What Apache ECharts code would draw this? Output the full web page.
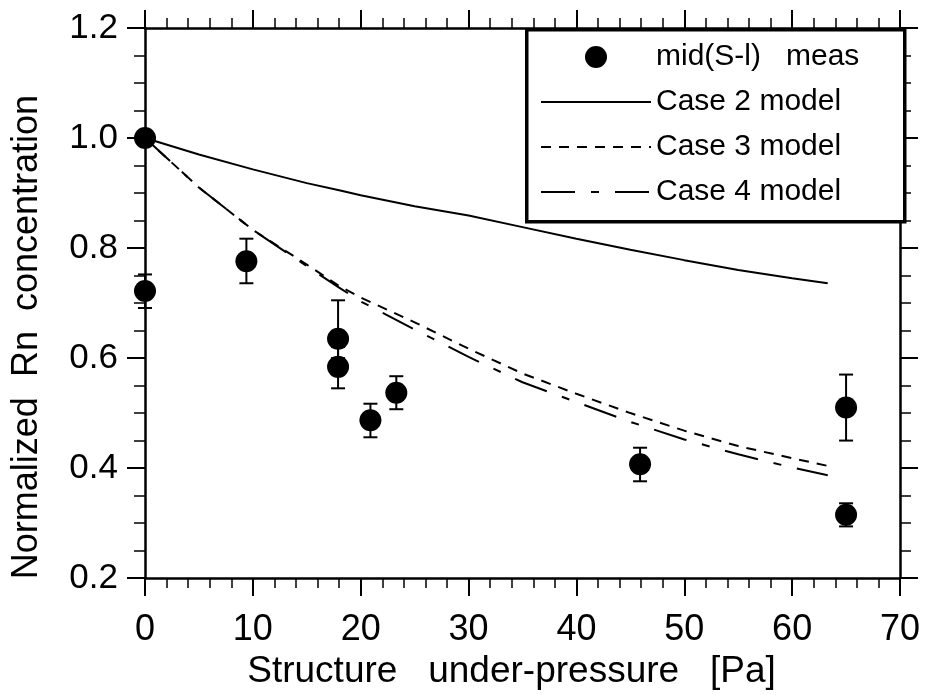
<!DOCTYPE html>
<html>
<head>
<meta charset="utf-8">
<script src="https://cdn.jsdelivr.net/npm/echarts@6/dist/echarts.min.js"></script>
<style>
html,body{margin:0;padding:0;background:#fff;}
#chart{width:927px;height:695px;}
</style>
</head>
<body>
<div id="chart"></div>
<script>
// Measured data: mid(S-l) meas
var measX    = [0, 0, 9.4, 17.9, 17.9, 20.9, 23.3, 45.9, 65.0, 65.0];
var measY    = [1.0, 0.722, 0.776, 0.635, 0.584, 0.487, 0.537, 0.407, 0.510, 0.315];
var measLow  = [1.0, 0.691, 0.736, 0.600, 0.545, 0.456, 0.507, 0.376, 0.450, 0.294];
var measHigh = [1.0, 0.752, 0.817, 0.705, 0.620, 0.517, 0.567, 0.437, 0.570, 0.336];

// Model curves
var modelX  = [0, 5, 10, 15, 18, 20, 25, 30, 35, 40, 45, 50, 55, 60, 63.3];
var case2Y  = [1.0, 0.970, 0.943, 0.918, 0.905, 0.896, 0.876, 0.859, 0.838, 0.817, 0.797, 0.778, 0.760, 0.745, 0.736];
var case3Y  = [1.0, 0.910, 0.833, 0.770, 0.731, 0.710, 0.665, 0.617, 0.572, 0.535, 0.500, 0.468, 0.440, 0.418, 0.404];
var case4Y  = [1.0, 0.910, 0.833, 0.767, 0.728, 0.703, 0.652, 0.602, 0.556, 0.520, 0.484, 0.452, 0.425, 0.401, 0.387];

var xTicks = [0, 10, 20, 30, 40, 50, 60, 70];
var yTicks = ['0.2', '0.4', '0.6', '0.8', '1.0', '1.2'];

var names = ['mid(S-l)   meas', 'Case 2 model', 'Case 3 model', 'Case 4 model'];

function pairs(xs, ys) { return xs.map(function (x, i) { return [x, ys[i]]; }); }

var FONT = '"Liberation Sans", Arial, Helvetica, sans-serif';
var chart = echarts.init(document.getElementById('chart'), null, {renderer: 'canvas'});

function xAxisDef(pos, showLabel) {
  return {
    type: 'value', position: pos, min: xTicks[0], max: xTicks[xTicks.length - 1], interval: 10,
    axisLine: {show: true, onZero: false, lineStyle: {color: '#000', width: 2.5}},
    axisTick: {show: true, length: 18, lineStyle: {color: '#000', width: 2}},
    minorTick: {show: true, splitNumber: 5, length: 10, lineStyle: {color: '#000', width: 1.5}},
    splitLine: {show: false},
    axisLabel: {show: showLabel, fontSize: 36, color: '#000', fontFamily: FONT, margin: 34},
    name: showLabel ? 'Structure   under-pressure   [Pa]' : '',
    nameLocation: 'middle', nameGap: 71,
    nameTextStyle: {fontSize: 37, color: '#000', fontFamily: FONT, padding: [0, 22, 0, 0]}
  };
}
function yAxisDef(pos, showLabel) {
  return {
    type: 'value', position: pos, min: 0.2, max: 1.2, interval: 0.2,
    axisLine: {show: true, onZero: false, lineStyle: {color: '#000', width: 2.5}},
    axisTick: {show: true, length: 18, lineStyle: {color: '#000', width: 2}},
    minorTick: {show: true, splitNumber: 4, length: 11, lineStyle: {color: '#000', width: 1.5}},
    splitLine: {show: false},
    axisLabel: {show: showLabel, fontSize: 35, color: '#000', fontFamily: FONT, margin: 27,
      formatter: function (v) { var s = v.toFixed(1); return yTicks.indexOf(s) >= 0 ? s : ''; }},
    name: showLabel ? 'Normalized  Rn  concentration' : '',
    nameLocation: 'middle', nameGap: 100, nameRotate: 90,
    nameTextStyle: {fontSize: 36, color: '#000', fontFamily: FONT, padding: [0, 68, 0, 0]}
  };
}

var errData = measX.map(function (x, i) { return [x, measLow[i], measHigh[i]]; });
var hidden = {color: 'rgba(0,0,0,0)', borderWidth: 0, opacity: 0};

var option = {
  animation: false,
  backgroundColor: '#fff',
  grid: {left: 145, right: 27, top: 28, bottom: 112, containLabel: false},
  xAxis: [xAxisDef('bottom', true), xAxisDef('top', false)],
  yAxis: [yAxisDef('left', true), yAxisDef('right', false)],
  legend: {
    orient: 'vertical', left: 540, top: 42, padding: 0, itemGap: 15,
    itemWidth: 110, itemHeight: 22,
    textStyle: {fontSize: 30, color: '#000', fontFamily: FONT},
    data: [
      {name: names[0], icon: 'circle', itemStyle: {color: '#000', opacity: 1}},
      {name: names[1], itemStyle: hidden},
      {name: names[2], itemStyle: hidden},
      {name: names[3], itemStyle: hidden}
    ],
    z: 10
  },
  graphic: [{
    type: 'rect', left: 525, top: 28, z: 5,
    shape: {width: 378, height: 192},
    style: {fill: '#fff', stroke: '#000', lineWidth: 3.5}
  }],
  series: [
    {
      name: names[0], type: 'scatter', symbol: 'circle', symbolSize: 22, symbolKeepAspect: true,
      itemStyle: {color: '#000', opacity: 1}, data: pairs(measX, measY), z: 4
    },
    {
      name: 'err', type: 'custom', z: 3,
      renderItem: function (params, api) {
        var x = api.value(0);
        var lo = api.coord([x, api.value(1)]);
        var hi = api.coord([x, api.value(2)]);
        var w = 7;
        var st = {stroke: '#000', lineWidth: 2};
        return {type: 'group', children: [
          {type: 'line', shape: {x1: lo[0], y1: lo[1], x2: hi[0], y2: hi[1]}, style: st},
          {type: 'line', shape: {x1: lo[0] - w, y1: lo[1], x2: lo[0] + w, y2: lo[1]}, style: st},
          {type: 'line', shape: {x1: hi[0] - w, y1: hi[1], x2: hi[0] + w, y2: hi[1]}, style: st}
        ]};
      },
      data: errData
    },
    {
      name: names[1], type: 'line', symbol: 'none', data: pairs(modelX, case2Y),
      lineStyle: {color: '#000', width: 2, type: 'solid'}, itemStyle: {color: '#000'}
    },
    {
      name: names[2], type: 'line', symbol: 'none', data: pairs(modelX, case3Y),
      lineStyle: {color: '#000', width: 2, type: [10, 8]}, itemStyle: {color: '#000'}
    },
    {
      name: names[3], type: 'line', symbol: 'none', data: pairs(modelX, case4Y),
      lineStyle: {color: '#000', width: 2, type: [34, 16, 8, 16]}, itemStyle: {color: '#000'}
    }
  ]
};
chart.setOption(option);
</script>
</body>
</html>
